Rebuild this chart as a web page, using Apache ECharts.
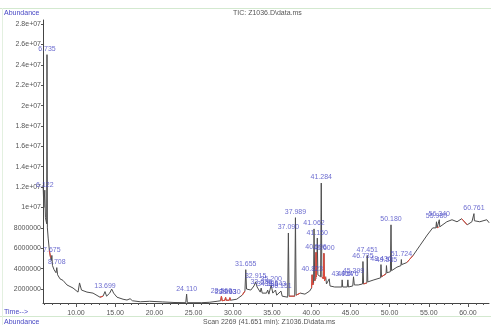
<!DOCTYPE html>
<html>
<head>
<meta charset="utf-8">
<script src="https://cdn.jsdelivr.net/npm/echarts@6/dist/echarts.min.js"></script>
<style>
  html, body { margin: 0; padding: 0; background: #fff; }
  #chart { width: 491px; height: 325px; }
</style>
</head>
<body>
<div id="chart"></div>
<script>
// retention time (min), abundance
const trace = [
  [5.80, 1.22e7], [5.90, 1.0e7], [6.02, 1.17e7], [6.10, 9.0e6], [6.26, 8.4e6], [6.30, 2.50e7],
  [6.35, 8.0e6], [6.45, 7.0e6], [6.60, 5.8e6], [6.75, 5.1e6], [6.85, 4.8e6], [6.92, 5.3e6],
  [7.00, 4.3e6], [7.20, 3.9e6], [7.45, 3.6e6], [7.55, 4.1e6], [7.65, 3.4e6], [7.96, 3.0e6],
  [8.34, 2.85e6], [8.85, 2.4e6], [9.62, 2.1e6], [10.26, 1.7e6], [10.45, 2.6e6], [10.70, 1.9e6],
  [11.40, 1.7e6], [12.17, 1.6e6], [13.06, 1.2e6], [13.45, 1.3e6], [13.70, 1.75e6], [13.90, 1.3e6],
  [14.30, 1.6e6], [14.55, 2.0e6], [14.80, 1.6e6], [15.23, 1.2e6], [16.0, 1.0e6], [16.5, 0.92e6],
  [16.9, 1.05e6], [17.2, 0.85e6], [18.2, 0.75e6], [19.4, 0.8e6], [19.6, 0.72e6], [21.0, 0.74e6],
  [22.5, 0.68e6], [24.0, 0.66e6], [24.11, 1.5e6], [24.2, 0.66e6], [26.0, 0.66e6], [27.0, 0.7e6],
  [28.0, 0.8e6], [28.45, 0.85e6], [28.55, 1.3e6], [28.65, 0.85e6], [29.0, 0.9e6], [29.08, 1.2e6],
  [29.15, 0.9e6], [29.55, 0.9e6], [29.63, 1.15e6], [29.7, 0.9e6], [30.5, 1.0e6], [31.2, 1.4e6],
  [31.55, 1.8e6], [31.655, 3.9e6], [31.75, 2.0e6], [32.3, 1.9e6], [32.7, 2.3e6], [32.915, 2.7e6],
  [33.1, 2.2e6], [33.5, 1.7e6], [33.62, 2.1e6], [33.75, 1.6e6], [34.3, 1.6e6], [34.45, 1.9e6],
  [34.6, 1.5e6], [34.9, 2.4e6], [35.1, 1.6e6], [35.45, 1.9e6], [35.6, 1.4e6], [36.15, 1.8e6],
  [36.3, 1.3e6], [37.0, 1.2e6], [37.09, 7.5e6], [37.18, 1.3e6], [37.9, 1.3e6], [37.99, 9.0e6],
  [38.08, 1.4e6], [38.6, 1.6e6], [39.2, 1.5e6], [39.8, 1.8e6], [40.05, 2.1e6], [40.12, 3.4e6],
  [40.2, 2.4e6], [40.30, 2.6e6], [40.36, 7.9e6], [40.45, 2.8e6], [40.58, 3.0e6], [40.62, 5.6e6],
  [40.68, 3.2e6], [40.74, 3.3e6], [40.78, 7.0e6], [40.85, 3.4e6], [41.2, 3.2e6], [41.284, 1.24e7],
  [41.36, 3.2e6], [41.55, 3.0e6], [41.62, 5.5e6], [41.7, 2.8e6], [41.85, 3.2e6], [41.95, 2.5e6],
  [42.2, 2.4e6], [42.3, 3.0e6], [42.4, 2.3e6], [43.0, 2.2e6], [43.9, 2.2e6], [43.95, 2.9e6],
  [44.02, 2.2e6], [44.6, 2.2e6], [44.676, 2.9e6], [44.75, 2.2e6], [45.3, 2.3e6], [45.399, 3.2e6],
  [45.5, 2.4e6], [46.0, 2.4e6], [46.55, 2.5e6], [46.6, 4.7e6], [46.68, 2.5e6], [47.1, 2.6e6],
  [47.15, 5.3e6], [47.22, 2.7e6], [48.0, 2.9e6], [48.85, 3.1e6], [48.9, 4.4e6], [48.97, 3.2e6],
  [49.55, 3.5e6], [49.6, 4.3e6], [49.67, 3.6e6], [50.1, 3.7e6], [50.18, 8.3e6], [50.25, 3.8e6],
  [50.94, 4.15e6], [51.45, 4.3e6], [51.5, 4.9e6], [51.55, 4.4e6], [52.2, 4.6e6], [53.0, 5.3e6],
  [53.9, 6.3e6], [54.8, 7.3e6], [55.5, 8.0e6], [55.9, 8.0e6], [55.98, 8.6e6], [56.05, 8.0e6],
  [56.3, 8.1e6], [56.34, 8.8e6], [56.4, 8.1e6], [57.3, 8.6e6], [57.96, 8.8e6], [58.6, 8.6e6],
  [59.2, 8.9e6], [59.9, 8.3e6], [60.5, 8.6e6], [60.7, 8.7e6], [60.761, 9.4e6], [60.82, 8.7e6],
  [61.5, 8.6e6], [62.4, 8.8e6], [62.7, 8.5e6]
];

// labelled peaks: time, abundance at apex, printed label
const peaks = [
  [6.02, 1.17e7, '6.122'], [6.30, 2.50e7, '6.735'], [6.92, 5.3e6, '7.675'], [7.55, 4.1e6, '8.708'],
  [13.70, 1.75e6, '13.699'], [24.11, 1.5e6, '24.110'], [28.55, 1.3e6, '28.560'], [29.08, 1.2e6, '29.093'],
  [29.63, 1.15e6, '29.630'], [31.655, 3.9e6, '31.655'], [32.915, 2.7e6, '32.915'], [33.62, 2.1e6, '33.625'],
  [34.45, 1.9e6, '34.580'], [34.9, 2.4e6, '35.200'], [35.45, 1.9e6, '35.543'], [36.15, 1.8e6, '36.151'],
  [37.09, 7.5e6, '37.090'], [37.99, 9.0e6, '37.989'], [40.12, 3.4e6, '40.823'], [40.36, 7.9e6, '41.062'],
  [40.62, 5.6e6, '40.596'], [40.78, 7.0e6, '41.150'], [41.284, 1.24e7, '41.284'], [41.62, 5.5e6, '41.600'],
  [43.95, 2.9e6, '43.964'], [44.676, 2.9e6, '44.676'], [45.399, 3.2e6, '45.399'], [46.6, 4.7e6, '46.735'],
  [47.15, 5.3e6, '47.451'], [48.9, 4.4e6, '48.436'], [49.6, 4.3e6, '49.535'], [50.18, 8.3e6, '50.180'],
  [51.5, 4.9e6, '51.724'], [55.98, 8.6e6, '55.980'], [56.34, 8.8e6, '56.340'], [60.761, 9.4e6, '60.761']
];

// stretches of the trace drawn red (integration baselines)
const redSpans = [
  [5.85, 5.95], [6.55, 6.80], [13.0, 13.5], [28.4, 29.8], [31.1, 31.6], [37.15, 37.95],
  [38.05, 38.65], [40.0, 40.3], [40.4, 40.7], [41.35, 41.9], [46.65, 47.12], [48.95, 49.56],
  [52.1, 53.1], [56.04, 56.31], [59.1, 59.95]
];

const xLabels = [10, 15, 20, 25, 30, 35, 40, 45, 50, 55, 60];
const xMinorTicks = [6, 7, 8, 9, 10, 11, 12, 13, 14, 15, 16, 17, 18, 19, 20, 21, 22, 23, 24, 25, 26, 27, 28, 29, 30,
  31, 32, 33, 34, 35, 36, 37, 38, 39, 40, 41, 42, 43, 44, 45, 46, 47, 48, 49, 50, 51, 52, 53, 54, 55, 56, 57, 58, 59, 60, 61, 62];
const yLabels = [2e6, 4e6, 6e6, 8e6, 1e7, 1.2e7, 1.4e7, 1.6e7, 1.8e7, 2e7, 2.2e7, 2.4e7, 2.6e7, 2.8e7];

const FONT = 'Liberation Sans';
const BLUE = '#4747c4';

const fmtY = (v) => {
  if (v < 1e7) return String(v);
  return v.toExponential().replace(/e\+(\d)$/, 'e+0$1');
};

const redData = trace.map(([t, v]) =>
  redSpans.some(([a, b]) => t >= a && t <= b) ? [t, v] : [t, null]
);

const chart = echarts.init(document.getElementById('chart'));
const option = {
  animation: false,
  backgroundColor: '#fff',
  grid: { left: 43, right: 2, top: 20, bottom: 22, outerBoundsMode: 'none' },
  xAxis: [
    {
      type: 'value',
      min: 5.79,
      max: 62.68,
      axisLine: { lineStyle: { color: '#444', width: 1 } },
      axisTick: { customValues: xMinorTicks, length: 2, lineStyle: { color: '#555' } },
      axisLabel: {
        customValues: xLabels,
        formatter: (v) => v.toFixed(2),
        fontFamily: FONT, fontSize: 7, color: '#555', margin: 7
      },
      splitLine: { show: false }
    },
    {
      type: 'value',
      position: 'bottom',
      min: 5.79,
      max: 62.68,
      axisLine: { show: false },
      axisTick: { customValues: xLabels, length: 4, lineStyle: { color: '#555' } },
      axisLabel: { show: false },
      splitLine: { show: false }
    }
  ],
  yAxis: {
    type: 'value',
    min: 630000,
    max: 28400000,
    axisLine: { show: true, lineStyle: { color: '#444', width: 1 } },
    axisTick: { show: true, customValues: yLabels, length: 2, lineStyle: { color: '#555' } },
    axisLabel: {
      customValues: yLabels,
      formatter: fmtY,
      fontFamily: FONT, fontSize: 7, color: '#555', margin: 2
    },
    splitLine: { show: false }
  },
  series: [
    {
      type: 'line',
      data: trace,
      showSymbol: false,
      lineStyle: { color: '#4d4d4d', width: 1 },
      z: 2
    },
    {
      type: 'line',
      data: redData,
      showSymbol: false,
      connectNulls: false,
      lineStyle: { color: '#e8483a', width: 1 },
      z: 3
    },
    {
      type: 'scatter',
      data: peaks,
      symbolSize: 0,
      label: {
        show: true,
        position: 'top',
        distance: 2,
        formatter: (p) => p.data[2],
        fontFamily: FONT, fontSize: 7, color: BLUE
      },
      z: 4
    }
  ],
  graphic: [
    { type: 'line', shape: { x1: 0, y1: 8.5, x2: 491, y2: 8.5 }, style: { stroke: '#d3e9cf', lineWidth: 1 } },
    { type: 'line', shape: { x1: 0, y1: 316.5, x2: 491, y2: 316.5 }, style: { stroke: '#d3e9cf', lineWidth: 1 } },
    { type: 'line', shape: { x1: 2.5, y1: 8, x2: 2.5, y2: 325 }, style: { stroke: '#e3f0e0', lineWidth: 1 } },
    { type: 'text', left: 233, top: 10, style: { text: 'TIC: Z1036.D\\data.ms', font: '7px ' + FONT, fill: '#555' } },
    { type: 'text', left: 4, top: 10, style: { text: 'Abundance', font: '7px ' + FONT, fill: BLUE } },
    { type: 'text', left: 4, top: 309, style: { text: 'Time-->', font: '7px ' + FONT, fill: BLUE } },
    { type: 'text', left: 4, top: 319, style: { text: 'Abundance', font: '7px ' + FONT, fill: BLUE } },
    { type: 'text', left: 203, top: 319, style: { text: 'Scan 2269 (41.651 min): Z1036.D\\data.ms', font: '7px ' + FONT, fill: '#555' } }
  ]
};
chart.setOption(option);
</script>
</body>
</html>
